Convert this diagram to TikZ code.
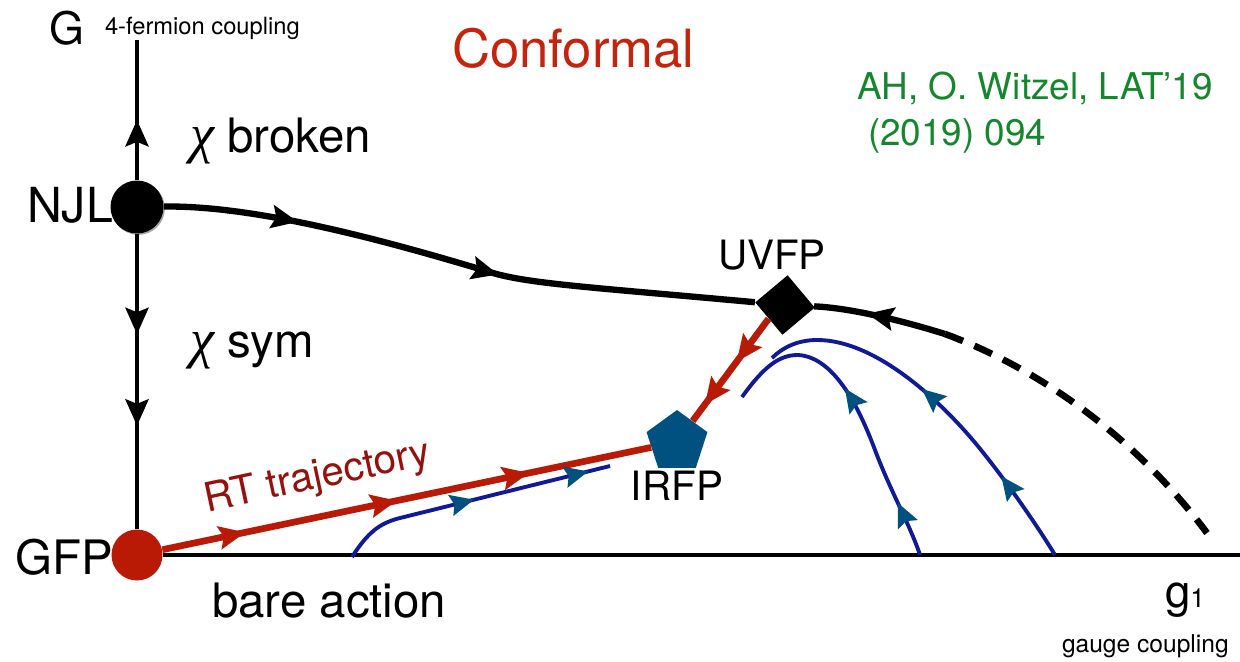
\documentclass[tikz,border=0pt]{standalone}
\usepackage{fontspec}
\setmainfont{TeX Gyre Heros}
\newfontfamily\chifont{Liberation Serif}
\usetikzlibrary{arrows.meta,decorations.markings,shapes.geometric,shadows}
\definecolor{fpred}{RGB}{184,26,6}
\definecolor{rtred}{RGB}{150,16,14}
\definecolor{confred}{RGB}{196,36,12}
\definecolor{fpnavy}{RGB}{16,26,150}
\definecolor{fpteal}{RGB}{0,80,128}
\definecolor{refgreen}{RGB}{20,135,45}
\newcommand\setfs[1]{\fontsize{#1}{#1}\selectfont}
\newcommand\chisym{{\chifont\itshape\setfs{31}χ}}
\tikzset{
  lbl/.style={inner sep=0pt, outer sep=0pt},
  axisline/.style={line width=2.8pt, black},
  flowline/.style={line width=3.6pt, black},
  redline/.style={line width=3.8pt, fpred},
  blueline/.style={line width=2.2pt, fpnavy},
  barr/.style={postaction={decorate,decoration={markings,mark=at position #1 with {\arrow{Stealth[length=15pt,width=13pt,inset=2.5pt]}}}}},
  rarr/.style={postaction={decorate,decoration={markings,mark=at position #1 with {\arrow{Stealth[length=15pt,width=13pt,inset=2.5pt,color=fpred]}}}}},
  tarr/.style={postaction={decorate,decoration={markings,mark=at position #1 with {\arrow{Stealth[length=13.5pt,width=12pt,inset=2pt,color=fpteal]}}}}},
}
\begin{document}
\begin{tikzpicture}[x=0.02cm,y=-0.02cm]
\useasboundingbox (0,0) rectangle (1240,662);

% fixed points
\node[circle, fill=black, minimum size=1.06cm, inner sep=0pt,
      drop shadow={shadow xshift=0.8pt, shadow yshift=-0.8pt, opacity=0.35, fill=black}] (njl) at (137,207) {};
\node[circle, fill=fpred, minimum size=1.02cm, inner sep=0pt] (gfp) at (137,555) {};
\node[diamond, fill=black, minimum width=1.2cm, minimum height=1.2cm, inner sep=0pt, rotate=-5] (uvfp) at (785,305) {};
\node[regular polygon, regular polygon sides=5, fill=fpteal, minimum size=1.28cm, inner sep=0pt] (irfp) at (677,442) {};

% labels
\node[lbl, anchor=base, font=\setfs{25.5}] (glab) at (67,45) {G};
\node[lbl, anchor=base west, font=\setfs{13.5}] (gdesc) at (105,35) {4-fermion coupling};
\node[lbl, anchor=base east, font=\setfs{27.5}] (njllab) at (113,222) {NJL};
\node[lbl, anchor=base east, font=\setfs{27}] (gfplab) at (113,574) {GFP};
\node[lbl, anchor=base west, font=\setfs{27}] (broken) at (190,153) {\chisym\ broken};
\node[lbl, anchor=base west, font=\setfs{27}] (sym) at (190,357) {\chisym\ sym};
\node[lbl, anchor=base west, font=\setfs{30}, text=confred] (conf) at (452,68) {Conformal};
\node[lbl, anchor=base west, font=\setfs{21}, text=refgreen] (ref1) at (857,100) {AH, O. Witzel, LAT’19};
\node[lbl, anchor=base west, font=\setfs{21}, text=refgreen] (ref2) at (868,146) {(2019) 094};
\node[lbl, anchor=base, font=\setfs{23}] (uvlab) at (772,269) {UVFP};
\node[lbl, anchor=base, font=\setfs{23}] (irlab) at (677,500) {IRFP};
\node[lbl, anchor=base west, font=\setfs{23}, text=rtred, rotate=12] (rtlab) at (207,512) {RT trajectory};
\node[lbl, anchor=base west, font=\setfs{27}] (bare) at (212,617) {bare action};
\node[lbl, anchor=base west, font=\setfs{26}] (g1) at (1165,607) {g{\setfs{15}1}};
\node[lbl, anchor=base west, font=\setfs{14}] (gauge) at (1062,652) {gauge coupling};

% coordinates
\coordinate (gtop) at (137,40);
\coordinate (xend) at (1240,555);
\coordinate (k1) at (493,273);
\coordinate (c1) at (945,334);
\coordinate (dend) at (1207,533);
\coordinate (b1s) at (352,557);
\coordinate (b1m) at (400,518);
\coordinate (b1e) at (610,466);
\coordinate (a1s) at (920,555);
\coordinate (a1e) at (742,397);
\coordinate (a2s) at (1055,555);
\coordinate (a2e) at (772,358);

% axes
\draw[axisline, barr=0.43] (njl) -- (gtop);
\draw[axisline, barr=0.34, barr=0.65] (njl) -- (gfp);
\draw[axisline] (gfp) -- (xend);

% black flow line
\draw[flowline, barr=0.225, barr=0.57] (njl) .. controls (260,205) and (400,245) .. (k1)
      .. controls (530,284) and (600,288) .. (uvfp);
\draw[flowline, barr=0.6] (c1) .. controls (900,320) and (850,308) .. (uvfp);
\draw[line width=3.8pt, dash pattern=on 11pt off 7pt] (c1) .. controls (1030,365) and (1130,430) .. (dend);

% red lines
\draw[redline, rarr=0.42, rarr=0.84] (uvfp.south west) -- (irfp);
\draw[redline, rarr=0.17, rarr=0.48, rarr=0.75] (gfp) -- (irfp);

% blue lines
\draw[blueline, tarr=0.5, tarr=0.92] (b1s) .. controls (368,532) and (380,523) .. (b1m) -- (b1e);
\draw[blueline, tarr=0.18, tarr=0.58] (a1s) .. controls (910,525) and (890,490) .. (875,450)
      .. controls (860,410) and (835,357) .. (798,355) .. controls (780,355) and (765,365) .. (a1e);
\draw[blueline, tarr=0.25, tarr=0.56] (a2s) .. controls (1035,522) and (1005,480) .. (985,455)
      .. controls (950,410) and (880,340) .. (817,340) .. controls (797,340) and (782,348) .. (a2e);
\end{tikzpicture}
\end{document}
